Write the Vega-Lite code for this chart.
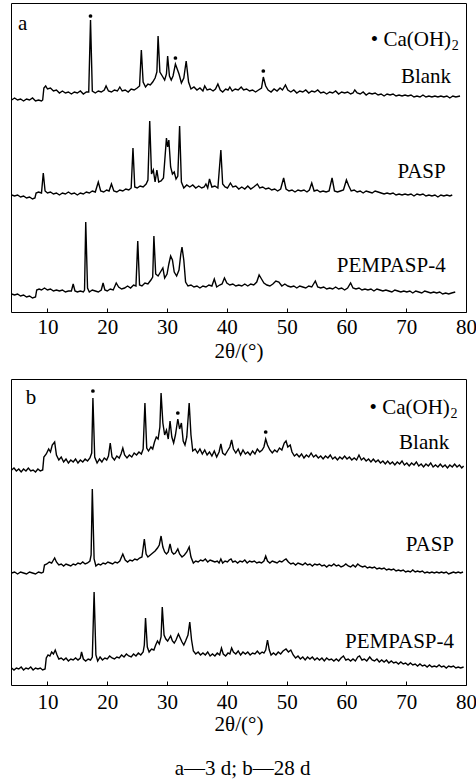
{
"$schema":"https://vega.github.io/schema/vega-lite/v6.json",
"padding":{"left":8,"top":2,"right":0,"bottom":2},
"background":"white",
"spacing":67,
"bounds":"flush",
"config":{"view":{"stroke":"black","strokeWidth":1},"font":"Liberation Serif","text":{"font":"Liberation Serif","color":"black"}},
"title":{"text":"a—3 d; b—28 d","orient":"bottom","anchor":"middle","offset":23,"fontSize":21,"font":"Liberation Serif","fontWeight":"normal","color":"black"},
"datasets":{
"a":[
{"s":"B","x":4.0,"y":212},{"s":"B","x":4.5,"y":214},{"s":"B","x":5.0,"y":212},{"s":"B","x":5.5,"y":213},{"s":"B","x":6.0,"y":211},{"s":"B","x":6.5,"y":213},{"s":"B","x":7.0,"y":212},{"s":"B","x":7.5,"y":214},{"s":"B","x":8.0,"y":211},{"s":"B","x":8.5,"y":212},{"s":"B","x":9.0,"y":211},{"s":"B","x":9.2,"y":212},{"s":"B","x":9.4,"y":224},{"s":"B","x":9.7,"y":226},{"s":"B","x":10.0,"y":223},{"s":"B","x":10.5,"y":224},{"s":"B","x":11.0,"y":221},{"s":"B","x":11.5,"y":222},{"s":"B","x":12.0,"y":219},{"s":"B","x":12.5,"y":221},{"s":"B","x":13.0,"y":219},{"s":"B","x":13.5,"y":220},{"s":"B","x":14.0,"y":218},{"s":"B","x":14.5,"y":220},{"s":"B","x":15.0,"y":219},{"s":"B","x":15.5,"y":221},{"s":"B","x":16.0,"y":218},{"s":"B","x":16.5,"y":220},{"s":"B","x":16.9,"y":220},{"s":"B","x":17.2,"y":292},{"s":"B","x":17.5,"y":221},{"s":"B","x":18.0,"y":219},{"s":"B","x":18.5,"y":221},{"s":"B","x":19.0,"y":220},{"s":"B","x":19.5,"y":222},{"s":"B","x":19.8,"y":226},{"s":"B","x":20.2,"y":221},{"s":"B","x":20.7,"y":220},{"s":"B","x":21.2,"y":222},{"s":"B","x":21.7,"y":221},{"s":"B","x":22.1,"y":225},{"s":"B","x":22.5,"y":221},{"s":"B","x":23.0,"y":222},{"s":"B","x":23.5,"y":220},{"s":"B","x":24.0,"y":223},{"s":"B","x":24.5,"y":222},{"s":"B","x":25.0,"y":224},{"s":"B","x":25.4,"y":226},{"s":"B","x":25.7,"y":262},{"s":"B","x":26.0,"y":230},{"s":"B","x":26.4,"y":225},{"s":"B","x":26.8,"y":228},{"s":"B","x":27.2,"y":227},{"s":"B","x":27.6,"y":230},{"s":"B","x":28.0,"y":234},{"s":"B","x":28.3,"y":240},{"s":"B","x":28.5,"y":276},{"s":"B","x":28.8,"y":240},{"s":"B","x":29.2,"y":236},{"s":"B","x":29.6,"y":232},{"s":"B","x":29.9,"y":238},{"s":"B","x":30.1,"y":256},{"s":"B","x":30.4,"y":236},{"s":"B","x":30.7,"y":232},{"s":"B","x":31.0,"y":236},{"s":"B","x":31.4,"y":248},{"s":"B","x":31.7,"y":243},{"s":"B","x":32.0,"y":238},{"s":"B","x":32.4,"y":229},{"s":"B","x":32.8,"y":234},{"s":"B","x":33.2,"y":251},{"s":"B","x":33.6,"y":230},{"s":"B","x":34.0,"y":223},{"s":"B","x":34.5,"y":225},{"s":"B","x":35.0,"y":222},{"s":"B","x":35.5,"y":224},{"s":"B","x":36.0,"y":221},{"s":"B","x":36.3,"y":226},{"s":"B","x":36.7,"y":222},{"s":"B","x":37.2,"y":223},{"s":"B","x":37.7,"y":221},{"s":"B","x":38.1,"y":223},{"s":"B","x":38.5,"y":228},{"s":"B","x":38.9,"y":222},{"s":"B","x":39.3,"y":220},{"s":"B","x":39.8,"y":223},{"s":"B","x":40.2,"y":222},{"s":"B","x":40.5,"y":225},{"s":"B","x":40.9,"y":221},{"s":"B","x":41.4,"y":223},{"s":"B","x":41.9,"y":222},{"s":"B","x":42.4,"y":225},{"s":"B","x":42.8,"y":222},{"s":"B","x":43.3,"y":223},{"s":"B","x":43.8,"y":221},{"s":"B","x":44.3,"y":222},{"s":"B","x":44.8,"y":220},{"s":"B","x":45.3,"y":222},{"s":"B","x":45.8,"y":224},{"s":"B","x":46.1,"y":235},{"s":"B","x":46.5,"y":226},{"s":"B","x":46.9,"y":222},{"s":"B","x":47.4,"y":220},{"s":"B","x":47.9,"y":223},{"s":"B","x":48.4,"y":221},{"s":"B","x":48.9,"y":224},{"s":"B","x":49.3,"y":222},{"s":"B","x":49.8,"y":227},{"s":"B","x":50.2,"y":222},{"s":"B","x":50.7,"y":220},{"s":"B","x":51.2,"y":222},{"s":"B","x":51.7,"y":219},{"s":"B","x":52.2,"y":221},{"s":"B","x":52.7,"y":220},{"s":"B","x":53.2,"y":222},{"s":"B","x":53.7,"y":219},{"s":"B","x":54.2,"y":221},{"s":"B","x":54.7,"y":220},{"s":"B","x":55.2,"y":222},{"s":"B","x":55.7,"y":219},{"s":"B","x":56.2,"y":220},{"s":"B","x":56.7,"y":218},{"s":"B","x":57.2,"y":220},{"s":"B","x":57.7,"y":219},{"s":"B","x":58.2,"y":221},{"s":"B","x":58.7,"y":218},{"s":"B","x":59.2,"y":220},{"s":"B","x":59.7,"y":219},{"s":"B","x":60.2,"y":220},{"s":"B","x":60.7,"y":218},{"s":"B","x":61.1,"y":219},{"s":"B","x":61.4,"y":222},{"s":"B","x":61.8,"y":219},{"s":"B","x":62.3,"y":218},{"s":"B","x":62.8,"y":220},{"s":"B","x":63.3,"y":217},{"s":"B","x":63.8,"y":219},{"s":"B","x":64.3,"y":218},{"s":"B","x":64.8,"y":219},{"s":"B","x":65.3,"y":217},{"s":"B","x":65.8,"y":218},{"s":"B","x":66.3,"y":216},{"s":"B","x":66.8,"y":218},{"s":"B","x":67.3,"y":217},{"s":"B","x":67.8,"y":218},{"s":"B","x":68.3,"y":216},{"s":"B","x":68.8,"y":217},{"s":"B","x":69.3,"y":216},{"s":"B","x":69.8,"y":217},{"s":"B","x":70.3,"y":216},{"s":"B","x":70.8,"y":217},{"s":"B","x":71.3,"y":215},{"s":"B","x":71.8,"y":216},{"s":"B","x":72.3,"y":215},{"s":"B","x":72.8,"y":217},{"s":"B","x":73.3,"y":215},{"s":"B","x":73.8,"y":216},{"s":"B","x":74.3,"y":215},{"s":"B","x":74.8,"y":216},{"s":"B","x":75.3,"y":215},{"s":"B","x":75.8,"y":216},{"s":"B","x":76.3,"y":215},{"s":"B","x":76.8,"y":216},{"s":"B","x":77.3,"y":214},{"s":"B","x":77.8,"y":216},{"s":"B","x":78.3,"y":215},{"s":"B","x":79.0,"y":216},
{"s":"P","x":4.0,"y":117},{"s":"P","x":4.5,"y":116},{"s":"P","x":5.0,"y":117},{"s":"P","x":5.5,"y":115},{"s":"P","x":6.0,"y":116},{"s":"P","x":6.5,"y":114},{"s":"P","x":7.0,"y":115},{"s":"P","x":7.5,"y":113},{"s":"P","x":7.9,"y":114},{"s":"P","x":8.1,"y":119},{"s":"P","x":8.5,"y":120},{"s":"P","x":9.0,"y":119},{"s":"P","x":9.3,"y":139},{"s":"P","x":9.6,"y":121},{"s":"P","x":10.0,"y":119},{"s":"P","x":10.5,"y":120},{"s":"P","x":11.0,"y":118},{"s":"P","x":11.5,"y":119},{"s":"P","x":12.0,"y":117},{"s":"P","x":12.5,"y":119},{"s":"P","x":13.0,"y":118},{"s":"P","x":13.5,"y":120},{"s":"P","x":14.0,"y":118},{"s":"P","x":14.5,"y":119},{"s":"P","x":15.0,"y":117},{"s":"P","x":15.5,"y":119},{"s":"P","x":16.0,"y":118},{"s":"P","x":16.5,"y":120},{"s":"P","x":17.0,"y":119},{"s":"P","x":17.5,"y":121},{"s":"P","x":18.0,"y":120},{"s":"P","x":18.5,"y":130},{"s":"P","x":18.9,"y":121},{"s":"P","x":19.4,"y":120},{"s":"P","x":19.9,"y":122},{"s":"P","x":20.3,"y":121},{"s":"P","x":20.7,"y":128},{"s":"P","x":21.1,"y":121},{"s":"P","x":21.6,"y":120},{"s":"P","x":22.1,"y":122},{"s":"P","x":22.6,"y":121},{"s":"P","x":23.1,"y":123},{"s":"P","x":23.6,"y":122},{"s":"P","x":24.0,"y":124},{"s":"P","x":24.3,"y":164},{"s":"P","x":24.6,"y":125},{"s":"P","x":25.0,"y":124},{"s":"P","x":25.5,"y":126},{"s":"P","x":26.0,"y":125},{"s":"P","x":26.5,"y":128},{"s":"P","x":26.8,"y":132},{"s":"P","x":27.1,"y":191},{"s":"P","x":27.4,"y":138},{"s":"P","x":27.7,"y":142},{"s":"P","x":28.0,"y":130},{"s":"P","x":28.3,"y":142},{"s":"P","x":28.6,"y":130},{"s":"P","x":29.0,"y":131},{"s":"P","x":29.4,"y":134},{"s":"P","x":29.9,"y":174},{"s":"P","x":30.1,"y":165},{"s":"P","x":30.3,"y":172},{"s":"P","x":30.6,"y":145},{"s":"P","x":30.9,"y":138},{"s":"P","x":31.2,"y":140},{"s":"P","x":31.5,"y":133},{"s":"P","x":31.8,"y":136},{"s":"P","x":32.1,"y":186},{"s":"P","x":32.4,"y":130},{"s":"P","x":32.8,"y":124},{"s":"P","x":33.3,"y":127},{"s":"P","x":33.8,"y":125},{"s":"P","x":34.3,"y":127},{"s":"P","x":34.8,"y":124},{"s":"P","x":35.3,"y":126},{"s":"P","x":35.8,"y":124},{"s":"P","x":36.2,"y":125},{"s":"P","x":36.5,"y":128},{"s":"P","x":36.8,"y":124},{"s":"P","x":37.1,"y":133},{"s":"P","x":37.5,"y":125},{"s":"P","x":38.0,"y":126},{"s":"P","x":38.5,"y":124},{"s":"P","x":39.0,"y":162},{"s":"P","x":39.3,"y":128},{"s":"P","x":39.7,"y":125},{"s":"P","x":40.1,"y":124},{"s":"P","x":40.6,"y":129},{"s":"P","x":41.0,"y":125},{"s":"P","x":41.5,"y":126},{"s":"P","x":42.0,"y":123},{"s":"P","x":42.5,"y":125},{"s":"P","x":43.0,"y":123},{"s":"P","x":43.5,"y":126},{"s":"P","x":44.0,"y":123},{"s":"P","x":44.5,"y":125},{"s":"P","x":45.1,"y":128},{"s":"P","x":45.5,"y":124},{"s":"P","x":46.0,"y":125},{"s":"P","x":46.5,"y":123},{"s":"P","x":47.0,"y":124},{"s":"P","x":47.5,"y":122},{"s":"P","x":48.0,"y":123},{"s":"P","x":48.5,"y":121},{"s":"P","x":49.0,"y":123},{"s":"P","x":49.5,"y":134},{"s":"P","x":49.9,"y":123},{"s":"P","x":50.4,"y":121},{"s":"P","x":50.9,"y":122},{"s":"P","x":51.4,"y":120},{"s":"P","x":51.9,"y":122},{"s":"P","x":52.4,"y":121},{"s":"P","x":52.9,"y":122},{"s":"P","x":53.4,"y":120},{"s":"P","x":53.8,"y":122},{"s":"P","x":54.2,"y":129},{"s":"P","x":54.6,"y":121},{"s":"P","x":55.1,"y":122},{"s":"P","x":55.6,"y":120},{"s":"P","x":56.1,"y":121},{"s":"P","x":56.6,"y":120},{"s":"P","x":57.1,"y":121},{"s":"P","x":57.6,"y":134},{"s":"P","x":58.0,"y":121},{"s":"P","x":58.5,"y":120},{"s":"P","x":59.0,"y":121},{"s":"P","x":59.5,"y":122},{"s":"P","x":60.0,"y":132},{"s":"P","x":60.4,"y":126},{"s":"P","x":60.8,"y":121},{"s":"P","x":61.3,"y":122},{"s":"P","x":61.8,"y":120},{"s":"P","x":62.3,"y":121},{"s":"P","x":62.8,"y":119},{"s":"P","x":63.3,"y":121},{"s":"P","x":63.8,"y":120},{"s":"P","x":64.3,"y":119},{"s":"P","x":64.8,"y":121},{"s":"P","x":65.3,"y":120},{"s":"P","x":65.8,"y":119},{"s":"P","x":66.3,"y":118},{"s":"P","x":66.8,"y":119},{"s":"P","x":67.3,"y":118},{"s":"P","x":67.8,"y":119},{"s":"P","x":68.3,"y":117},{"s":"P","x":68.8,"y":118},{"s":"P","x":69.3,"y":117},{"s":"P","x":69.8,"y":118},{"s":"P","x":70.3,"y":117},{"s":"P","x":70.8,"y":118},{"s":"P","x":71.3,"y":116},{"s":"P","x":71.8,"y":118},{"s":"P","x":72.3,"y":117},{"s":"P","x":72.8,"y":118},{"s":"P","x":73.3,"y":116},{"s":"P","x":73.8,"y":117},{"s":"P","x":74.3,"y":116},{"s":"P","x":74.8,"y":117},{"s":"P","x":75.3,"y":115},{"s":"P","x":75.8,"y":117},{"s":"P","x":76.3,"y":116},{"s":"P","x":76.8,"y":117},{"s":"P","x":77.3,"y":116},{"s":"P","x":77.7,"y":117},
{"s":"M","x":4.0,"y":18},{"s":"M","x":4.5,"y":17},{"s":"M","x":5.0,"y":18},{"s":"M","x":5.5,"y":16},{"s":"M","x":6.0,"y":17},{"s":"M","x":6.5,"y":15},{"s":"M","x":7.0,"y":16},{"s":"M","x":7.5,"y":14},{"s":"M","x":8.0,"y":15},{"s":"M","x":8.2,"y":22},{"s":"M","x":8.6,"y":23},{"s":"M","x":9.0,"y":22},{"s":"M","x":9.5,"y":24},{"s":"M","x":10.0,"y":22},{"s":"M","x":10.5,"y":23},{"s":"M","x":11.0,"y":21},{"s":"M","x":11.5,"y":22},{"s":"M","x":12.0,"y":21},{"s":"M","x":12.5,"y":22},{"s":"M","x":13.0,"y":20},{"s":"M","x":13.5,"y":21},{"s":"M","x":14.0,"y":21},{"s":"M","x":14.3,"y":28},{"s":"M","x":14.6,"y":21},{"s":"M","x":15.0,"y":20},{"s":"M","x":15.5,"y":21},{"s":"M","x":16.0,"y":20},{"s":"M","x":16.2,"y":22},{"s":"M","x":16.4,"y":90},{"s":"M","x":16.7,"y":24},{"s":"M","x":17.0,"y":20},{"s":"M","x":17.5,"y":22},{"s":"M","x":18.0,"y":21},{"s":"M","x":18.5,"y":20},{"s":"M","x":19.0,"y":22},{"s":"M","x":19.3,"y":29},{"s":"M","x":19.6,"y":22},{"s":"M","x":20.0,"y":21},{"s":"M","x":20.5,"y":23},{"s":"M","x":21.0,"y":22},{"s":"M","x":21.5,"y":29},{"s":"M","x":21.9,"y":25},{"s":"M","x":22.4,"y":23},{"s":"M","x":22.9,"y":24},{"s":"M","x":23.4,"y":26},{"s":"M","x":23.9,"y":24},{"s":"M","x":24.4,"y":27},{"s":"M","x":24.8,"y":26},{"s":"M","x":25.1,"y":71},{"s":"M","x":25.4,"y":27},{"s":"M","x":25.8,"y":26},{"s":"M","x":26.3,"y":29},{"s":"M","x":26.8,"y":28},{"s":"M","x":27.3,"y":32},{"s":"M","x":27.6,"y":35},{"s":"M","x":27.8,"y":76},{"s":"M","x":28.1,"y":38},{"s":"M","x":28.5,"y":36},{"s":"M","x":28.9,"y":40},{"s":"M","x":29.3,"y":44},{"s":"M","x":29.6,"y":34},{"s":"M","x":30.0,"y":38},{"s":"M","x":30.3,"y":48},{"s":"M","x":30.6,"y":56},{"s":"M","x":30.9,"y":52},{"s":"M","x":31.2,"y":40},{"s":"M","x":31.6,"y":36},{"s":"M","x":32.0,"y":42},{"s":"M","x":32.3,"y":58},{"s":"M","x":32.5,"y":65},{"s":"M","x":32.8,"y":52},{"s":"M","x":33.1,"y":30},{"s":"M","x":33.5,"y":26},{"s":"M","x":34.0,"y":27},{"s":"M","x":34.5,"y":25},{"s":"M","x":35.0,"y":26},{"s":"M","x":35.5,"y":24},{"s":"M","x":36.0,"y":26},{"s":"M","x":36.5,"y":25},{"s":"M","x":37.0,"y":27},{"s":"M","x":37.5,"y":26},{"s":"M","x":37.9,"y":33},{"s":"M","x":38.3,"y":25},{"s":"M","x":38.8,"y":27},{"s":"M","x":39.2,"y":28},{"s":"M","x":39.6,"y":34},{"s":"M","x":40.0,"y":29},{"s":"M","x":40.5,"y":27},{"s":"M","x":41.0,"y":28},{"s":"M","x":41.5,"y":26},{"s":"M","x":42.0,"y":27},{"s":"M","x":42.5,"y":26},{"s":"M","x":43.0,"y":28},{"s":"M","x":43.5,"y":26},{"s":"M","x":44.0,"y":28},{"s":"M","x":44.5,"y":27},{"s":"M","x":45.0,"y":30},{"s":"M","x":45.4,"y":37},{"s":"M","x":45.8,"y":33},{"s":"M","x":46.2,"y":29},{"s":"M","x":46.7,"y":27},{"s":"M","x":47.2,"y":26},{"s":"M","x":47.7,"y":28},{"s":"M","x":48.2,"y":31},{"s":"M","x":48.7,"y":30},{"s":"M","x":49.2,"y":26},{"s":"M","x":49.7,"y":28},{"s":"M","x":50.2,"y":26},{"s":"M","x":50.7,"y":25},{"s":"M","x":51.2,"y":26},{"s":"M","x":51.7,"y":24},{"s":"M","x":52.2,"y":26},{"s":"M","x":52.7,"y":25},{"s":"M","x":53.2,"y":24},{"s":"M","x":53.7,"y":26},{"s":"M","x":54.2,"y":25},{"s":"M","x":54.8,"y":31},{"s":"M","x":55.2,"y":25},{"s":"M","x":55.7,"y":24},{"s":"M","x":56.2,"y":25},{"s":"M","x":56.7,"y":23},{"s":"M","x":57.2,"y":24},{"s":"M","x":57.7,"y":23},{"s":"M","x":58.2,"y":25},{"s":"M","x":58.7,"y":23},{"s":"M","x":59.2,"y":24},{"s":"M","x":59.7,"y":22},{"s":"M","x":60.2,"y":24},{"s":"M","x":60.7,"y":29},{"s":"M","x":61.1,"y":24},{"s":"M","x":61.6,"y":23},{"s":"M","x":62.1,"y":24},{"s":"M","x":62.6,"y":22},{"s":"M","x":63.1,"y":23},{"s":"M","x":63.6,"y":22},{"s":"M","x":64.1,"y":23},{"s":"M","x":64.6,"y":21},{"s":"M","x":65.1,"y":23},{"s":"M","x":65.6,"y":22},{"s":"M","x":66.1,"y":21},{"s":"M","x":66.6,"y":22},{"s":"M","x":67.1,"y":21},{"s":"M","x":67.6,"y":20},{"s":"M","x":68.1,"y":22},{"s":"M","x":68.6,"y":21},{"s":"M","x":69.1,"y":20},{"s":"M","x":69.6,"y":21},{"s":"M","x":70.1,"y":20},{"s":"M","x":70.6,"y":21},{"s":"M","x":71.1,"y":19},{"s":"M","x":71.6,"y":21},{"s":"M","x":72.1,"y":20},{"s":"M","x":72.6,"y":19},{"s":"M","x":73.1,"y":21},{"s":"M","x":73.6,"y":20},{"s":"M","x":74.1,"y":19},{"s":"M","x":74.6,"y":20},{"s":"M","x":75.1,"y":19},{"s":"M","x":75.6,"y":20},{"s":"M","x":76.1,"y":18},{"s":"M","x":76.6,"y":19},{"s":"M","x":77.1,"y":18},{"s":"M","x":77.6,"y":19},{"s":"M","x":78.2,"y":20}
],
"b":[
{"s":"B","x":4.0,"y":215},{"s":"B","x":4.4,"y":217},{"s":"B","x":4.8,"y":214},{"s":"B","x":5.2,"y":216},{"s":"B","x":5.6,"y":213},{"s":"B","x":6.0,"y":216},{"s":"B","x":6.4,"y":214},{"s":"B","x":6.8,"y":217},{"s":"B","x":7.2,"y":214},{"s":"B","x":7.6,"y":215},{"s":"B","x":8.0,"y":213},{"s":"B","x":8.4,"y":216},{"s":"B","x":8.8,"y":214},{"s":"B","x":9.2,"y":215},{"s":"B","x":9.4,"y":228},{"s":"B","x":9.8,"y":231},{"s":"B","x":10.2,"y":236},{"s":"B","x":10.5,"y":233},{"s":"B","x":10.8,"y":240},{"s":"B","x":11.2,"y":243},{"s":"B","x":11.5,"y":230},{"s":"B","x":11.9,"y":225},{"s":"B","x":12.3,"y":228},{"s":"B","x":12.7,"y":223},{"s":"B","x":13.1,"y":226},{"s":"B","x":13.5,"y":222},{"s":"B","x":13.9,"y":225},{"s":"B","x":14.3,"y":223},{"s":"B","x":14.7,"y":226},{"s":"B","x":15.1,"y":222},{"s":"B","x":15.5,"y":225},{"s":"B","x":15.9,"y":223},{"s":"B","x":16.3,"y":226},{"s":"B","x":16.7,"y":224},{"s":"B","x":17.1,"y":227},{"s":"B","x":17.4,"y":232},{"s":"B","x":17.6,"y":287},{"s":"B","x":17.9,"y":228},{"s":"B","x":18.3,"y":222},{"s":"B","x":18.7,"y":226},{"s":"B","x":19.1,"y":223},{"s":"B","x":19.5,"y":227},{"s":"B","x":19.9,"y":225},{"s":"B","x":20.2,"y":229},{"s":"B","x":20.5,"y":242},{"s":"B","x":20.8,"y":228},{"s":"B","x":21.2,"y":225},{"s":"B","x":21.6,"y":229},{"s":"B","x":22.0,"y":227},{"s":"B","x":22.3,"y":231},{"s":"B","x":22.6,"y":237},{"s":"B","x":22.9,"y":230},{"s":"B","x":23.3,"y":227},{"s":"B","x":23.7,"y":230},{"s":"B","x":24.1,"y":228},{"s":"B","x":24.5,"y":232},{"s":"B","x":24.9,"y":230},{"s":"B","x":25.3,"y":233},{"s":"B","x":25.7,"y":231},{"s":"B","x":26.0,"y":236},{"s":"B","x":26.3,"y":282},{"s":"B","x":26.6,"y":237},{"s":"B","x":26.9,"y":234},{"s":"B","x":27.3,"y":238},{"s":"B","x":27.6,"y":236},{"s":"B","x":27.9,"y":243},{"s":"B","x":28.2,"y":248},{"s":"B","x":28.5,"y":246},{"s":"B","x":28.8,"y":258},{"s":"B","x":29.0,"y":292},{"s":"B","x":29.3,"y":262},{"s":"B","x":29.6,"y":250},{"s":"B","x":29.9,"y":255},{"s":"B","x":30.2,"y":246},{"s":"B","x":30.5,"y":264},{"s":"B","x":30.8,"y":248},{"s":"B","x":31.1,"y":242},{"s":"B","x":31.4,"y":250},{"s":"B","x":31.8,"y":266},{"s":"B","x":32.1,"y":256},{"s":"B","x":32.4,"y":262},{"s":"B","x":32.7,"y":244},{"s":"B","x":33.0,"y":240},{"s":"B","x":33.3,"y":248},{"s":"B","x":33.7,"y":282},{"s":"B","x":34.0,"y":250},{"s":"B","x":34.3,"y":234},{"s":"B","x":34.7,"y":236},{"s":"B","x":35.1,"y":232},{"s":"B","x":35.5,"y":236},{"s":"B","x":35.9,"y":231},{"s":"B","x":36.3,"y":235},{"s":"B","x":36.7,"y":230},{"s":"B","x":37.1,"y":233},{"s":"B","x":37.5,"y":229},{"s":"B","x":37.9,"y":234},{"s":"B","x":38.3,"y":228},{"s":"B","x":38.7,"y":233},{"s":"B","x":39.0,"y":241},{"s":"B","x":39.3,"y":232},{"s":"B","x":39.7,"y":230},{"s":"B","x":40.1,"y":234},{"s":"B","x":40.5,"y":238},{"s":"B","x":40.8,"y":245},{"s":"B","x":41.1,"y":236},{"s":"B","x":41.5,"y":232},{"s":"B","x":41.9,"y":236},{"s":"B","x":42.3,"y":230},{"s":"B","x":42.7,"y":235},{"s":"B","x":43.1,"y":231},{"s":"B","x":43.5,"y":233},{"s":"B","x":43.9,"y":230},{"s":"B","x":44.3,"y":234},{"s":"B","x":44.7,"y":231},{"s":"B","x":45.1,"y":236},{"s":"B","x":45.5,"y":233},{"s":"B","x":45.9,"y":235},{"s":"B","x":46.2,"y":238},{"s":"B","x":46.5,"y":246},{"s":"B","x":46.8,"y":240},{"s":"B","x":47.2,"y":235},{"s":"B","x":47.6,"y":232},{"s":"B","x":48.0,"y":235},{"s":"B","x":48.4,"y":233},{"s":"B","x":48.8,"y":237},{"s":"B","x":49.2,"y":235},{"s":"B","x":49.6,"y":242},{"s":"B","x":49.9,"y":244},{"s":"B","x":50.2,"y":238},{"s":"B","x":50.6,"y":240},{"s":"B","x":50.9,"y":233},{"s":"B","x":51.3,"y":229},{"s":"B","x":51.7,"y":231},{"s":"B","x":52.1,"y":228},{"s":"B","x":52.5,"y":231},{"s":"B","x":52.9,"y":227},{"s":"B","x":53.3,"y":230},{"s":"B","x":53.7,"y":228},{"s":"B","x":54.1,"y":232},{"s":"B","x":54.5,"y":228},{"s":"B","x":54.9,"y":230},{"s":"B","x":55.3,"y":227},{"s":"B","x":55.7,"y":229},{"s":"B","x":56.1,"y":226},{"s":"B","x":56.5,"y":229},{"s":"B","x":56.9,"y":227},{"s":"B","x":57.3,"y":230},{"s":"B","x":57.7,"y":226},{"s":"B","x":58.1,"y":228},{"s":"B","x":58.5,"y":225},{"s":"B","x":58.9,"y":228},{"s":"B","x":59.3,"y":226},{"s":"B","x":59.7,"y":229},{"s":"B","x":60.1,"y":226},{"s":"B","x":60.5,"y":228},{"s":"B","x":60.9,"y":225},{"s":"B","x":61.3,"y":227},{"s":"B","x":61.7,"y":225},{"s":"B","x":62.1,"y":230},{"s":"B","x":62.5,"y":225},{"s":"B","x":62.9,"y":227},{"s":"B","x":63.3,"y":224},{"s":"B","x":63.7,"y":226},{"s":"B","x":64.1,"y":223},{"s":"B","x":64.5,"y":226},{"s":"B","x":64.9,"y":223},{"s":"B","x":65.3,"y":225},{"s":"B","x":65.7,"y":222},{"s":"B","x":66.1,"y":224},{"s":"B","x":66.5,"y":221},{"s":"B","x":66.9,"y":224},{"s":"B","x":67.3,"y":221},{"s":"B","x":67.7,"y":223},{"s":"B","x":68.1,"y":220},{"s":"B","x":68.5,"y":223},{"s":"B","x":68.9,"y":221},{"s":"B","x":69.3,"y":224},{"s":"B","x":69.7,"y":220},{"s":"B","x":70.1,"y":222},{"s":"B","x":70.5,"y":219},{"s":"B","x":70.9,"y":222},{"s":"B","x":71.3,"y":220},{"s":"B","x":71.7,"y":223},{"s":"B","x":72.1,"y":219},{"s":"B","x":72.5,"y":221},{"s":"B","x":72.9,"y":218},{"s":"B","x":73.3,"y":221},{"s":"B","x":73.7,"y":219},{"s":"B","x":74.1,"y":222},{"s":"B","x":74.5,"y":218},{"s":"B","x":74.9,"y":220},{"s":"B","x":75.3,"y":218},{"s":"B","x":75.7,"y":221},{"s":"B","x":76.1,"y":218},{"s":"B","x":76.5,"y":220},{"s":"B","x":76.9,"y":217},{"s":"B","x":77.3,"y":220},{"s":"B","x":77.7,"y":218},{"s":"B","x":78.1,"y":221},{"s":"B","x":78.5,"y":218},{"s":"B","x":78.9,"y":220},{"s":"B","x":79.3,"y":217},{"s":"B","x":79.6,"y":219},
{"s":"P","x":4.0,"y":112},{"s":"P","x":4.5,"y":113},{"s":"P","x":5.0,"y":111},{"s":"P","x":5.5,"y":113},{"s":"P","x":6.0,"y":112},{"s":"P","x":6.5,"y":111},{"s":"P","x":7.0,"y":113},{"s":"P","x":7.5,"y":112},{"s":"P","x":8.0,"y":111},{"s":"P","x":8.5,"y":113},{"s":"P","x":9.0,"y":112},{"s":"P","x":9.3,"y":113},{"s":"P","x":9.5,"y":120},{"s":"P","x":9.9,"y":121},{"s":"P","x":10.3,"y":123},{"s":"P","x":10.7,"y":122},{"s":"P","x":11.0,"y":125},{"s":"P","x":11.2,"y":127},{"s":"P","x":11.5,"y":123},{"s":"P","x":11.9,"y":120},{"s":"P","x":12.3,"y":121},{"s":"P","x":12.7,"y":119},{"s":"P","x":13.1,"y":121},{"s":"P","x":13.5,"y":120},{"s":"P","x":13.9,"y":119},{"s":"P","x":14.3,"y":121},{"s":"P","x":14.7,"y":120},{"s":"P","x":15.1,"y":122},{"s":"P","x":15.5,"y":121},{"s":"P","x":15.9,"y":123},{"s":"P","x":16.3,"y":121},{"s":"P","x":16.7,"y":122},{"s":"P","x":17.1,"y":124},{"s":"P","x":17.3,"y":130},{"s":"P","x":17.5,"y":196},{"s":"P","x":17.8,"y":126},{"s":"P","x":18.1,"y":119},{"s":"P","x":18.5,"y":121},{"s":"P","x":18.9,"y":120},{"s":"P","x":19.3,"y":122},{"s":"P","x":19.7,"y":121},{"s":"P","x":20.1,"y":123},{"s":"P","x":20.5,"y":122},{"s":"P","x":20.9,"y":121},{"s":"P","x":21.3,"y":123},{"s":"P","x":21.7,"y":122},{"s":"P","x":22.1,"y":124},{"s":"P","x":22.6,"y":131},{"s":"P","x":23.0,"y":125},{"s":"P","x":23.4,"y":123},{"s":"P","x":23.8,"y":125},{"s":"P","x":24.2,"y":124},{"s":"P","x":24.6,"y":126},{"s":"P","x":25.0,"y":125},{"s":"P","x":25.4,"y":127},{"s":"P","x":25.8,"y":128},{"s":"P","x":26.2,"y":146},{"s":"P","x":26.5,"y":131},{"s":"P","x":26.8,"y":128},{"s":"P","x":27.2,"y":130},{"s":"P","x":27.6,"y":132},{"s":"P","x":28.0,"y":134},{"s":"P","x":28.4,"y":137},{"s":"P","x":28.7,"y":140},{"s":"P","x":29.0,"y":149},{"s":"P","x":29.3,"y":138},{"s":"P","x":29.6,"y":133},{"s":"P","x":29.9,"y":131},{"s":"P","x":30.2,"y":133},{"s":"P","x":30.5,"y":141},{"s":"P","x":30.8,"y":133},{"s":"P","x":31.1,"y":131},{"s":"P","x":31.4,"y":132},{"s":"P","x":31.8,"y":136},{"s":"P","x":32.1,"y":131},{"s":"P","x":32.5,"y":128},{"s":"P","x":32.9,"y":130},{"s":"P","x":33.3,"y":133},{"s":"P","x":33.7,"y":138},{"s":"P","x":34.0,"y":128},{"s":"P","x":34.4,"y":122},{"s":"P","x":34.8,"y":124},{"s":"P","x":35.2,"y":123},{"s":"P","x":35.6,"y":125},{"s":"P","x":36.0,"y":124},{"s":"P","x":36.4,"y":126},{"s":"P","x":36.8,"y":123},{"s":"P","x":37.2,"y":125},{"s":"P","x":37.6,"y":124},{"s":"P","x":38.0,"y":123},{"s":"P","x":38.4,"y":124},{"s":"P","x":38.7,"y":122},{"s":"P","x":39.0,"y":126},{"s":"P","x":39.3,"y":122},{"s":"P","x":39.7,"y":124},{"s":"P","x":40.1,"y":123},{"s":"P","x":40.4,"y":125},{"s":"P","x":40.7,"y":126},{"s":"P","x":41.0,"y":123},{"s":"P","x":41.4,"y":124},{"s":"P","x":41.8,"y":122},{"s":"P","x":42.2,"y":124},{"s":"P","x":42.6,"y":123},{"s":"P","x":43.0,"y":125},{"s":"P","x":43.4,"y":122},{"s":"P","x":43.8,"y":124},{"s":"P","x":44.2,"y":123},{"s":"P","x":44.6,"y":124},{"s":"P","x":45.0,"y":122},{"s":"P","x":45.4,"y":123},{"s":"P","x":45.8,"y":122},{"s":"P","x":46.2,"y":124},{"s":"P","x":46.5,"y":129},{"s":"P","x":46.8,"y":124},{"s":"P","x":47.2,"y":122},{"s":"P","x":47.6,"y":124},{"s":"P","x":48.0,"y":123},{"s":"P","x":48.4,"y":122},{"s":"P","x":48.8,"y":124},{"s":"P","x":49.2,"y":123},{"s":"P","x":49.6,"y":125},{"s":"P","x":49.9,"y":126},{"s":"P","x":50.3,"y":123},{"s":"P","x":50.7,"y":121},{"s":"P","x":51.1,"y":122},{"s":"P","x":51.5,"y":120},{"s":"P","x":51.9,"y":122},{"s":"P","x":52.3,"y":121},{"s":"P","x":52.7,"y":120},{"s":"P","x":53.1,"y":122},{"s":"P","x":53.5,"y":120},{"s":"P","x":53.9,"y":121},{"s":"P","x":54.3,"y":119},{"s":"P","x":54.7,"y":121},{"s":"P","x":55.1,"y":120},{"s":"P","x":55.5,"y":121},{"s":"P","x":55.9,"y":119},{"s":"P","x":56.3,"y":120},{"s":"P","x":56.7,"y":118},{"s":"P","x":57.1,"y":120},{"s":"P","x":57.5,"y":119},{"s":"P","x":57.9,"y":121},{"s":"P","x":58.3,"y":119},{"s":"P","x":58.7,"y":120},{"s":"P","x":59.1,"y":118},{"s":"P","x":59.5,"y":119},{"s":"P","x":59.9,"y":121},{"s":"P","x":60.3,"y":119},{"s":"P","x":60.7,"y":118},{"s":"P","x":61.1,"y":120},{"s":"P","x":61.5,"y":118},{"s":"P","x":61.9,"y":121},{"s":"P","x":62.3,"y":119},{"s":"P","x":62.7,"y":118},{"s":"P","x":63.1,"y":119},{"s":"P","x":63.5,"y":117},{"s":"P","x":63.9,"y":118},{"s":"P","x":64.3,"y":117},{"s":"P","x":64.7,"y":118},{"s":"P","x":65.1,"y":116},{"s":"P","x":65.5,"y":117},{"s":"P","x":65.9,"y":116},{"s":"P","x":66.3,"y":117},{"s":"P","x":66.7,"y":115},{"s":"P","x":67.1,"y":116},{"s":"P","x":67.5,"y":115},{"s":"P","x":67.9,"y":116},{"s":"P","x":68.3,"y":114},{"s":"P","x":68.7,"y":115},{"s":"P","x":69.1,"y":114},{"s":"P","x":69.5,"y":115},{"s":"P","x":69.9,"y":113},{"s":"P","x":70.3,"y":114},{"s":"P","x":70.7,"y":113},{"s":"P","x":71.1,"y":115},{"s":"P","x":71.5,"y":113},{"s":"P","x":71.9,"y":114},{"s":"P","x":72.3,"y":113},{"s":"P","x":72.7,"y":114},{"s":"P","x":73.1,"y":112},{"s":"P","x":73.5,"y":113},{"s":"P","x":73.9,"y":112},{"s":"P","x":74.3,"y":113},{"s":"P","x":74.7,"y":112},{"s":"P","x":75.1,"y":113},{"s":"P","x":75.5,"y":112},{"s":"P","x":75.9,"y":113},{"s":"P","x":76.3,"y":112},{"s":"P","x":76.7,"y":113},{"s":"P","x":77.1,"y":111},{"s":"P","x":77.5,"y":112},{"s":"P","x":77.9,"y":113},{"s":"P","x":78.3,"y":112},{"s":"P","x":78.7,"y":113},{"s":"P","x":79.1,"y":112},{"s":"P","x":79.5,"y":113},
{"s":"M","x":4.0,"y":17},{"s":"M","x":4.4,"y":15},{"s":"M","x":4.8,"y":17},{"s":"M","x":5.2,"y":16},{"s":"M","x":5.6,"y":18},{"s":"M","x":6.0,"y":15},{"s":"M","x":6.4,"y":17},{"s":"M","x":6.8,"y":16},{"s":"M","x":7.2,"y":18},{"s":"M","x":7.6,"y":15},{"s":"M","x":8.0,"y":17},{"s":"M","x":8.4,"y":16},{"s":"M","x":8.8,"y":17},{"s":"M","x":9.2,"y":15},{"s":"M","x":9.6,"y":16},{"s":"M","x":9.8,"y":27},{"s":"M","x":10.1,"y":30},{"s":"M","x":10.4,"y":29},{"s":"M","x":10.7,"y":33},{"s":"M","x":11.0,"y":31},{"s":"M","x":11.3,"y":35},{"s":"M","x":11.6,"y":30},{"s":"M","x":11.9,"y":26},{"s":"M","x":12.3,"y":27},{"s":"M","x":12.7,"y":25},{"s":"M","x":13.1,"y":27},{"s":"M","x":13.5,"y":24},{"s":"M","x":13.9,"y":26},{"s":"M","x":14.3,"y":25},{"s":"M","x":14.7,"y":27},{"s":"M","x":15.1,"y":25},{"s":"M","x":15.5,"y":27},{"s":"M","x":15.7,"y":33},{"s":"M","x":16.0,"y":26},{"s":"M","x":16.4,"y":24},{"s":"M","x":16.8,"y":26},{"s":"M","x":17.2,"y":25},{"s":"M","x":17.5,"y":28},{"s":"M","x":17.8,"y":93},{"s":"M","x":18.1,"y":30},{"s":"M","x":18.4,"y":24},{"s":"M","x":18.8,"y":28},{"s":"M","x":19.2,"y":25},{"s":"M","x":19.6,"y":27},{"s":"M","x":20.0,"y":26},{"s":"M","x":20.4,"y":29},{"s":"M","x":20.8,"y":27},{"s":"M","x":21.2,"y":26},{"s":"M","x":21.6,"y":28},{"s":"M","x":22.0,"y":27},{"s":"M","x":22.4,"y":30},{"s":"M","x":22.8,"y":28},{"s":"M","x":23.2,"y":31},{"s":"M","x":23.6,"y":29},{"s":"M","x":24.0,"y":28},{"s":"M","x":24.4,"y":31},{"s":"M","x":24.8,"y":29},{"s":"M","x":25.2,"y":32},{"s":"M","x":25.6,"y":30},{"s":"M","x":26.0,"y":33},{"s":"M","x":26.2,"y":40},{"s":"M","x":26.4,"y":67},{"s":"M","x":26.7,"y":38},{"s":"M","x":27.0,"y":33},{"s":"M","x":27.4,"y":36},{"s":"M","x":27.8,"y":35},{"s":"M","x":28.1,"y":40},{"s":"M","x":28.4,"y":44},{"s":"M","x":28.7,"y":41},{"s":"M","x":29.0,"y":48},{"s":"M","x":29.2,"y":78},{"s":"M","x":29.5,"y":50},{"s":"M","x":29.8,"y":46},{"s":"M","x":30.1,"y":44},{"s":"M","x":30.4,"y":47},{"s":"M","x":30.6,"y":49},{"s":"M","x":30.9,"y":44},{"s":"M","x":31.2,"y":42},{"s":"M","x":31.5,"y":45},{"s":"M","x":31.9,"y":51},{"s":"M","x":32.2,"y":47},{"s":"M","x":32.5,"y":43},{"s":"M","x":32.8,"y":40},{"s":"M","x":33.1,"y":44},{"s":"M","x":33.5,"y":50},{"s":"M","x":33.8,"y":63},{"s":"M","x":34.1,"y":45},{"s":"M","x":34.4,"y":34},{"s":"M","x":34.8,"y":31},{"s":"M","x":35.2,"y":33},{"s":"M","x":35.6,"y":30},{"s":"M","x":36.0,"y":32},{"s":"M","x":36.4,"y":30},{"s":"M","x":36.8,"y":33},{"s":"M","x":37.2,"y":29},{"s":"M","x":37.6,"y":31},{"s":"M","x":38.0,"y":29},{"s":"M","x":38.4,"y":32},{"s":"M","x":38.8,"y":30},{"s":"M","x":39.1,"y":37},{"s":"M","x":39.4,"y":31},{"s":"M","x":39.8,"y":29},{"s":"M","x":40.2,"y":32},{"s":"M","x":40.5,"y":31},{"s":"M","x":40.8,"y":37},{"s":"M","x":41.1,"y":33},{"s":"M","x":41.5,"y":31},{"s":"M","x":41.9,"y":34},{"s":"M","x":42.3,"y":30},{"s":"M","x":42.7,"y":33},{"s":"M","x":43.1,"y":31},{"s":"M","x":43.5,"y":33},{"s":"M","x":43.9,"y":30},{"s":"M","x":44.3,"y":32},{"s":"M","x":44.7,"y":31},{"s":"M","x":45.1,"y":34},{"s":"M","x":45.5,"y":31},{"s":"M","x":45.9,"y":33},{"s":"M","x":46.2,"y":32},{"s":"M","x":46.5,"y":35},{"s":"M","x":46.8,"y":45},{"s":"M","x":47.1,"y":35},{"s":"M","x":47.4,"y":30},{"s":"M","x":47.8,"y":32},{"s":"M","x":48.2,"y":30},{"s":"M","x":48.6,"y":33},{"s":"M","x":49.0,"y":31},{"s":"M","x":49.4,"y":34},{"s":"M","x":49.9,"y":36},{"s":"M","x":50.3,"y":33},{"s":"M","x":50.7,"y":35},{"s":"M","x":51.1,"y":30},{"s":"M","x":51.5,"y":27},{"s":"M","x":51.9,"y":29},{"s":"M","x":52.3,"y":26},{"s":"M","x":52.7,"y":28},{"s":"M","x":53.1,"y":25},{"s":"M","x":53.5,"y":28},{"s":"M","x":53.9,"y":26},{"s":"M","x":54.3,"y":28},{"s":"M","x":54.7,"y":25},{"s":"M","x":55.1,"y":27},{"s":"M","x":55.5,"y":25},{"s":"M","x":55.9,"y":27},{"s":"M","x":56.3,"y":24},{"s":"M","x":56.7,"y":27},{"s":"M","x":57.1,"y":25},{"s":"M","x":57.5,"y":26},{"s":"M","x":57.9,"y":24},{"s":"M","x":58.3,"y":26},{"s":"M","x":58.7,"y":24},{"s":"M","x":59.1,"y":27},{"s":"M","x":59.5,"y":29},{"s":"M","x":59.9,"y":25},{"s":"M","x":60.3,"y":26},{"s":"M","x":60.7,"y":24},{"s":"M","x":61.1,"y":26},{"s":"M","x":61.5,"y":24},{"s":"M","x":61.9,"y":28},{"s":"M","x":62.2,"y":29},{"s":"M","x":62.6,"y":25},{"s":"M","x":63.0,"y":26},{"s":"M","x":63.4,"y":24},{"s":"M","x":63.9,"y":28},{"s":"M","x":64.3,"y":25},{"s":"M","x":64.7,"y":24},{"s":"M","x":65.1,"y":26},{"s":"M","x":65.5,"y":23},{"s":"M","x":65.9,"y":25},{"s":"M","x":66.3,"y":23},{"s":"M","x":66.7,"y":25},{"s":"M","x":67.1,"y":22},{"s":"M","x":67.5,"y":24},{"s":"M","x":67.9,"y":22},{"s":"M","x":68.3,"y":23},{"s":"M","x":68.7,"y":21},{"s":"M","x":69.1,"y":23},{"s":"M","x":69.5,"y":21},{"s":"M","x":69.9,"y":22},{"s":"M","x":70.3,"y":20},{"s":"M","x":70.7,"y":22},{"s":"M","x":71.1,"y":20},{"s":"M","x":71.5,"y":21},{"s":"M","x":71.9,"y":19},{"s":"M","x":72.3,"y":21},{"s":"M","x":72.7,"y":19},{"s":"M","x":73.1,"y":20},{"s":"M","x":73.5,"y":18},{"s":"M","x":73.9,"y":20},{"s":"M","x":74.3,"y":18},{"s":"M","x":74.7,"y":19},{"s":"M","x":75.1,"y":18},{"s":"M","x":75.5,"y":20},{"s":"M","x":75.9,"y":18},{"s":"M","x":76.3,"y":19},{"s":"M","x":76.7,"y":17},{"s":"M","x":77.1,"y":19},{"s":"M","x":77.5,"y":18},{"s":"M","x":77.9,"y":19},{"s":"M","x":78.3,"y":17},{"s":"M","x":78.7,"y":18},{"s":"M","x":79.1,"y":17},{"s":"M","x":79.6,"y":18}
]
},
"vconcat":[
{"width":455,"height":309,
"encoding":{
"x":{"field":"x","type":"quantitative","scale":{"domain":[3.9,80],"nice":false,"zero":false},
"axis":{"values":[10,20,30,40,50,60,70,80],"title":"2θ/(°)","tickSize":-4,"tickColor":"black","labelPadding":8,"titlePadding":3,"grid":false,"domain":false,"labelFlush":false,"labelOverlap":false,"labelFont":"Liberation Serif","labelFontSize":21,"labelColor":"black","titleFont":"Liberation Serif","titleFontSize":21,"titleFontWeight":"normal","titleColor":"black"}},
"y":{"field":"y","type":"quantitative","scale":{"domain":[0,309],"nice":false,"zero":false},"axis":null}},
"layer":[
{"data":{"name":"a"},"mark":{"type":"line","color":"black","strokeWidth":1.4},"encoding":{"detail":{"field":"s"}}},
{"data":{"values":[{"x":17.2,"y":296},{"x":31.4,"y":254},{"x":46.1,"y":241}]},"mark":{"type":"point","filled":true,"color":"black","opacity":1,"size":14}},
{"data":{"values":[{"t":"Blank","x":77.5,"y":229},{"t":"PASP","x":76.6,"y":134},{"t":"PEMPASP-4","x":76.6,"y":40},{"t":"• Ca(OH)","x":77.5,"y":266}]},"mark":{"type":"text","align":"right","baseline":"alphabetic","fontSize":21},"encoding":{"text":{"field":"t"}}},
{"data":{"values":[{"t":"a","x":5.07,"y":282}]},"mark":{"type":"text","align":"left","baseline":"alphabetic","fontSize":21},"encoding":{"text":{"field":"t"}}},
{"data":{"values":[{"t":"2","x":77.6,"y":262}]},"mark":{"type":"text","align":"left","baseline":"alphabetic","fontSize":14},"encoding":{"text":{"field":"t"}}}
]},
{"width":455,"height":306,
"encoding":{
"x":{"field":"x","type":"quantitative","scale":{"domain":[3.9,80],"nice":false,"zero":false},
"axis":{"values":[10,20,30,40,50,60,70,80],"title":"2θ/(°)","tickSize":-4,"tickColor":"black","labelPadding":10,"titlePadding":1,"grid":false,"domain":false,"labelFlush":false,"labelOverlap":false,"labelFont":"Liberation Serif","labelFontSize":21,"labelColor":"black","titleFont":"Liberation Serif","titleFontSize":21,"titleFontWeight":"normal","titleColor":"black"}},
"y":{"field":"y","type":"quantitative","scale":{"domain":[0,306],"nice":false,"zero":false},"axis":null}},
"layer":[
{"data":{"name":"b"},"mark":{"type":"line","color":"black","strokeWidth":1.4},"encoding":{"detail":{"field":"s"}}},
{"data":{"values":[{"x":17.6,"y":294},{"x":31.8,"y":272},{"x":46.5,"y":253}]},"mark":{"type":"point","filled":true,"color":"black","opacity":1,"size":14}},
{"data":{"values":[{"t":"Blank","x":77.2,"y":236},{"t":"PASP","x":78.0,"y":134},{"t":"PEMPASP-4","x":78.0,"y":37},{"t":"• Ca(OH)","x":77.3,"y":271}]},"mark":{"type":"text","align":"right","baseline":"alphabetic","fontSize":21},"encoding":{"text":{"field":"t"}}},
{"data":{"values":[{"t":"b","x":6.35,"y":281}]},"mark":{"type":"text","align":"left","baseline":"alphabetic","fontSize":21},"encoding":{"text":{"field":"t"}}},
{"data":{"values":[{"t":"2","x":77.4,"y":267}]},"mark":{"type":"text","align":"left","baseline":"alphabetic","fontSize":14},"encoding":{"text":{"field":"t"}}}
]}
]
}
